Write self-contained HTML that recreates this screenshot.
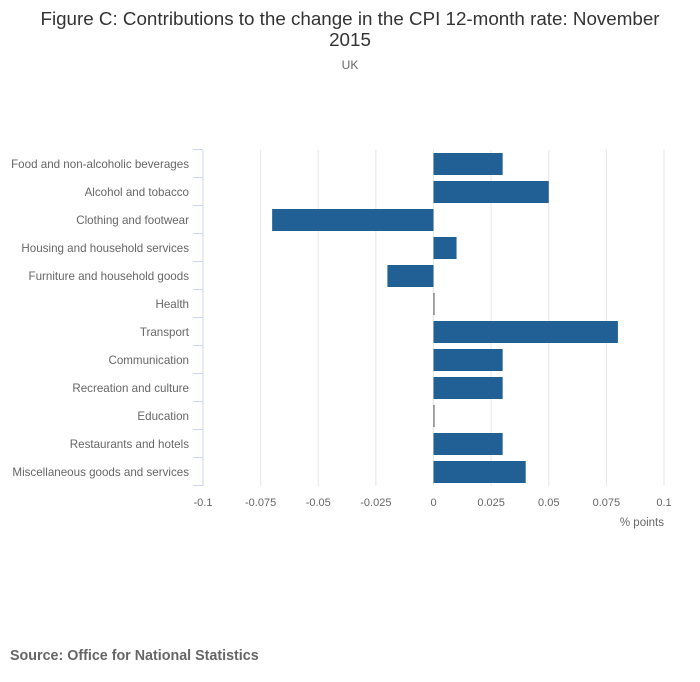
<!DOCTYPE html>
<html><head><meta charset="utf-8"><style>
body{margin:0;background:#fff;font-family:"Liberation Sans",sans-serif;}
#wrap{position:relative;width:700px;height:682px;overflow:hidden;}
</style></head><body>
<div id="wrap">
<svg id="chart" width="700" height="682">
<text x="350" y="25" text-anchor="middle" font-size="18.8" fill="#333">Figure C: Contributions to the change in the CPI 12-month rate: November</text>
<text x="350" y="46" text-anchor="middle" font-size="18.8" fill="#333">2015</text>
<text x="350" y="69" text-anchor="middle" font-size="12" fill="#666">UK</text>
<text x="664" y="526" text-anchor="end" font-size="11.5" fill="#666">% points</text>
<text x="10" y="660" font-size="14.3" font-weight="bold" fill="#666">Source: Office for National Statistics</text>
<g id="grid"></g><g id="bars"></g><g id="axes"></g>
</svg>
</div>
<script>
const categories=["Food and non-alcoholic beverages","Alcohol and tobacco","Clothing and footwear","Housing and household services","Furniture and household goods","Health","Transport","Communication","Recreation and culture","Education","Restaurants and hotels","Miscellaneous goods and services"];
const values=[0.03,0.05,-0.07,0.01,-0.02,0,0.08,0.03,0.03,0,0.03,0.04];
const ticks=[-0.1,-0.075,-0.05,-0.025,0,0.025,0.05,0.075,0.1];
const tickLabels=["-0.1","-0.075","-0.05","-0.025","0","0.025","0.05","0.075","0.1"];
const NS="http://www.w3.org/2000/svg";
const x0=203,x1=664,plotTop=150,rowH=28;
const xs=v=>x0+(v+0.1)/0.2*(x1-x0);
const ys=i=>plotTop+i*rowH;
const plotBottom=ys(categories.length);
function mk(t,a,p){const e=document.createElementNS(NS,t);for(const k in a)e.setAttribute(k,a[k]);p.appendChild(e);return e;}
const grid=document.getElementById('grid'),bars=document.getElementById('bars'),axes=document.getElementById('axes');
ticks.forEach((t,i)=>{
  if(i>0){const g=mk('line',{x1:xs(t),x2:xs(t),y1:plotTop,y2:plotBottom,stroke:'#e6e6e6','stroke-width':1},grid);
  
  }
  const l=mk('text',{x:xs(t),y:plotBottom+20,'text-anchor':'middle','font-size':11,fill:'#666'},axes);
  l.textContent=tickLabels[i];
  
  
});
const ax=mk('line',{x1:x0,x2:x0,y1:plotTop,y2:plotBottom,stroke:'#ccd6eb'},axes);


for(let i=0;i<=categories.length;i++){
  const t=mk('line',{x1:x0-10,x2:x0,y1:ys(i)-0.5,y2:ys(i)-0.5,stroke:'#ccd6eb'},axes);
  
  
}
categories.forEach((c,i)=>{
  const l=mk('text',{x:189,y:ys(i)+18,'text-anchor':'end','font-size':11.6,fill:'#666'},axes);
  l.textContent=c;
  
  
  const v=values[i];
  const a=Math.min(xs(0),xs(v)),w=Math.max(Math.abs(xs(v)-xs(0)),1);
  const b=mk('rect',{x:a,y:ys(i)+3,width:w,height:22,fill:v===0?'#555':'#206095'},bars);
  
  
});
</script>
</body></html>
